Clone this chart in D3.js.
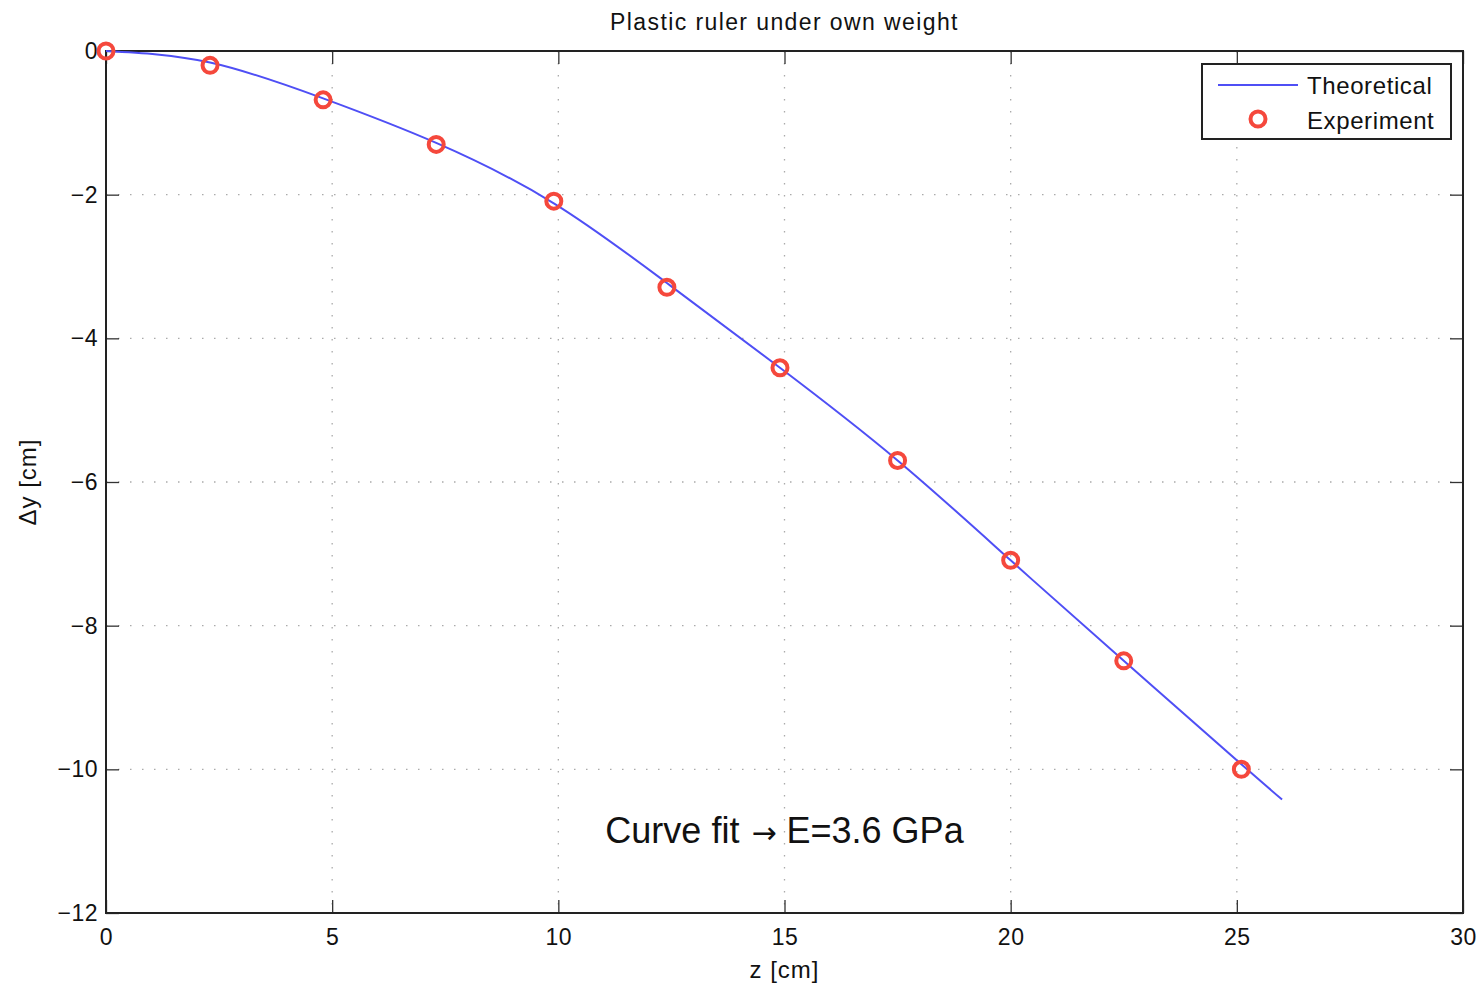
<!DOCTYPE html>
<html>
<head>
<meta charset="utf-8">
<script src="https://cdn.jsdelivr.net/npm/d3@7"></script>
<style>
  body { margin: 0; background: #fff; }
  text { font-family: "Liberation Sans", Arial, sans-serif; fill: #111; }
</style>
</head>
<body>
<div id="chart"></div>
<script>
// Chart size
var svgWidth = 1484;
var svgHeight = 987;

// Plot margins
var margin = { top: 51, right: 21, bottom: 74, left: 106 };
var width = svgWidth - margin.left - margin.right;
var height = svgHeight - margin.top - margin.bottom;

// Data
var expZ = [0, 2.3, 4.8, 7.3, 9.9, 12.4, 14.9, 17.5, 20.0, 22.5, 25.1];
var expDy = [0, -0.2, -0.68, -1.3, -2.09, -3.29, -4.41, -5.7, -7.09, -8.49, -10.0];

var theoZ = [0, 2.3, 4.8, 7.3, 9.9, 12.4, 14.9, 17.5, 20.0, 22.5, 25.1, 26.0];
var theoDy = [0, -0.16, -0.66, -1.28, -2.12, -3.23, -4.41, -5.70, -7.09, -8.49, -9.93, -10.42];

var xTicks = [0, 5, 10, 15, 20, 25, 30];
var yTicks = [0, -2, -4, -6, -8, -10, -12];

var titleText = "Plastic ruler under own weight";
var xLabel = "z [cm]";
var yLabel = "\u0394y [cm]";
var notePre = "Curve fit";
var noteArrow = "\u2192";
var notePost = "E=3.6 GPa";
var legendNames = ["Theoretical", "Experiment"];

var lineColor = "#4f4ff5";
var markColor = "#f5483c";

var svg = d3.select("#chart")
  .append("svg")
  .attr("width", svgWidth)
  .attr("height", svgHeight);

var chart = svg.append("g")
  .attr("transform", `translate(${margin.left}, ${margin.top})`);

var xScale = d3.scaleLinear().domain([0, 30]).range([0, width]);
var yScale = d3.scaleLinear().domain([-12, 0]).range([height, 0]);

var fmt = d => d < 0 ? "\u2212" + Math.abs(d) : String(d);

// Dotted grid
chart.append("g")
  .selectAll("line")
  .data(xTicks.slice(1, -1))
  .enter()
  .append("line")
  .attr("x1", d => xScale(d)).attr("x2", d => xScale(d))
  .attr("y1", 0).attr("y2", height)
  .attr("stroke", "#aaa")
  .attr("stroke-width", 1.3)
  .attr("stroke-dasharray", "1.5,10.5");

chart.append("g")
  .selectAll("line")
  .data(yTicks.slice(1, -1))
  .enter()
  .append("line")
  .attr("y1", d => yScale(d)).attr("y2", d => yScale(d))
  .attr("x1", 0).attr("x2", width)
  .attr("stroke", "#aaa")
  .attr("stroke-width", 1.3)
  .attr("stroke-dasharray", "1.5,10.5");

// Axes with inward ticks on all four sides
function styleAxis(g) {
  g.select(".domain").remove();
  g.selectAll(".tick line").attr("stroke", "#333").attr("stroke-width", 1.3);
  g.selectAll("text")
    .style("font-size", "23px")
    .style("letter-spacing", "0.5px")
    .attr("fill", "#111");
}

chart.append("g")
  .attr("transform", `translate(0,${height})`)
  .call(d3.axisBottom(xScale).tickValues(xTicks).tickFormat(fmt).tickSizeInner(-13).tickPadding(16))
  .call(styleAxis);

chart.append("g")
  .call(d3.axisTop(xScale).tickValues(xTicks).tickFormat("").tickSizeInner(-13))
  .call(styleAxis);

chart.append("g")
  .call(d3.axisLeft(yScale).tickValues(yTicks).tickFormat(fmt).tickSizeInner(-13).tickPadding(8))
  .call(styleAxis);

chart.append("g")
  .attr("transform", `translate(${width},0)`)
  .call(d3.axisRight(yScale).tickValues(yTicks).tickFormat("").tickSizeInner(-13))
  .call(styleAxis);

// Plot box
chart.append("rect")
  .attr("x", 0).attr("y", 0)
  .attr("width", width).attr("height", height)
  .attr("fill", "none")
  .attr("stroke", "#222")
  .attr("stroke-width", 2);

// Theoretical curve
var line = d3.line()
  .x((d, i) => xScale(theoZ[i]))
  .y(d => yScale(d))
  .curve(d3.curveNatural);

chart.append("path")
  .datum(theoDy)
  .attr("d", line)
  .attr("fill", "none")
  .attr("stroke", lineColor)
  .attr("stroke-width", 2);

// Experiment markers
chart.selectAll("circle.exp")
  .data(expDy)
  .enter()
  .append("circle")
  .attr("class", "exp")
  .attr("cx", (d, i) => xScale(expZ[i]))
  .attr("cy", d => yScale(d))
  .attr("r", 7.5)
  .attr("fill", "none")
  .attr("stroke", markColor)
  .attr("stroke-width", 4);

// Annotation (arrow drawn in DejaVu, which has a longer arrow glyph)
var note = chart.append("text")
  .attr("x", xScale(15))
  .attr("y", yScale(-11.02))
  .attr("text-anchor", "middle")
  .style("font-size", "36px");
note.append("tspan").text(notePre);
note.append("tspan")
  .attr("dx", 12)
  .style("font-family", "'DejaVu Sans'")
  .style("font-size", "30px")
  .text(noteArrow);
note.append("tspan").attr("dx", 10).text(notePost);

// Title and labels
svg.append("text")
  .attr("x", margin.left + width / 2)
  .attr("y", 30)
  .attr("text-anchor", "middle")
  .style("font-size", "23px")
  .style("letter-spacing", "1.4px")
  .text(titleText);

svg.append("text")
  .attr("x", margin.left + xScale(15))
  .attr("y", 978)
  .attr("text-anchor", "middle")
  .style("font-size", "24px")
  .style("letter-spacing", "1px")
  .text(xLabel);

svg.append("text")
  .attr("transform", `translate(36, ${margin.top + yScale(-6)}) rotate(-90)`)
  .attr("text-anchor", "middle")
  .style("font-size", "24px")
  .style("letter-spacing", "1px")
  .text(yLabel);

// Legend
var legend = svg.append("g").attr("transform", "translate(1202, 64)");
legend.append("rect")
  .attr("width", 249).attr("height", 75)
  .attr("fill", "#fff")
  .attr("stroke", "#222")
  .attr("stroke-width", 2);
legend.append("line")
  .attr("x1", 16).attr("x2", 96)
  .attr("y1", 21).attr("y2", 21)
  .attr("stroke", lineColor)
  .attr("stroke-width", 2);
legend.append("circle")
  .attr("cx", 56).attr("cy", 55).attr("r", 7.5)
  .attr("fill", "none")
  .attr("stroke", markColor)
  .attr("stroke-width", 4);
legend.selectAll("text.leg")
  .data(legendNames)
  .enter()
  .append("text")
  .attr("class", "leg")
  .attr("x", 105)
  .attr("y", (d, i) => 30 + i * 35)
  .style("font-size", "24px")
  .style("letter-spacing", "0.6px")
  .text(d => d);
</script>
</body>
</html>
